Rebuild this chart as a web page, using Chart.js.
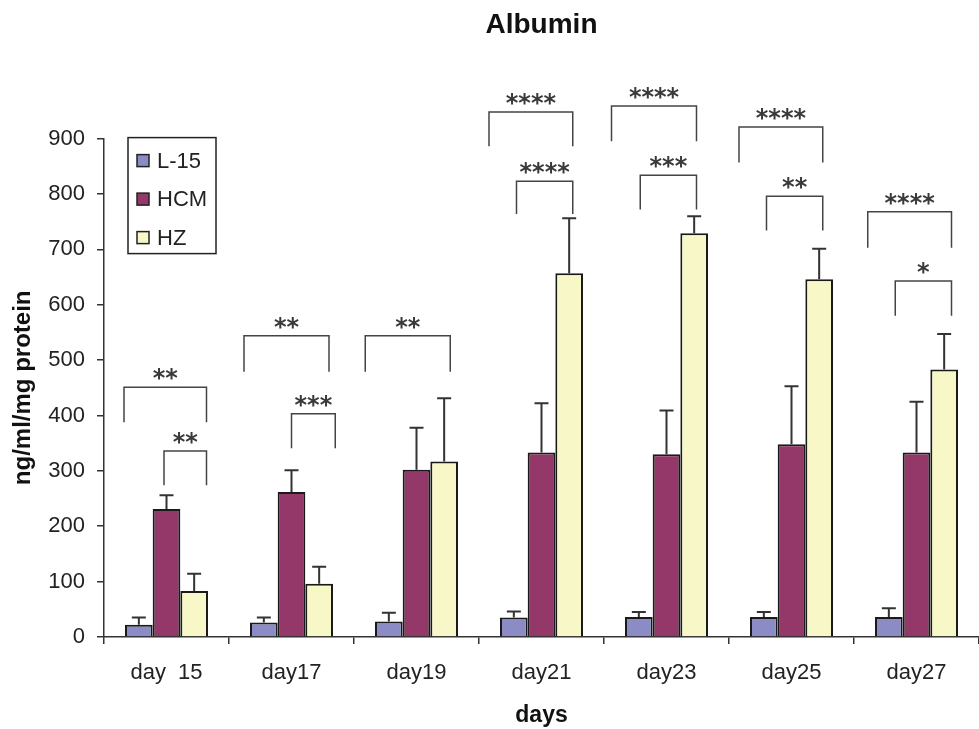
<!DOCTYPE html>
<html>
<head>
<meta charset="utf-8">
<title>Albumin</title>
<script src="https://cdn.jsdelivr.net/npm/chart.js@4.4.1/dist/chart.umd.min.js"></script>
<style>
    html, body { margin: 0; padding: 0; background: #fff; }
    #albuminChart { display: block; }
</style>
</head>
<body>
<canvas id="albuminChart" width="979" height="729"></canvas>
<script>
// Albumin secretion per day, mean and SD (upper error bar only)
const days = ['day  15', 'day17', 'day19', 'day21', 'day23', 'day25', 'day27'];
const l15 = [22, 26, 28, 35, 36, 36, 36];
const l15Sd = [13, 9, 16, 11, 9, 9, 16];
const hcm = [231, 262, 302, 333, 330, 348, 333];
const hcmSd = [25, 39, 76, 89, 79, 105, 92];
const hz = [83, 96, 317, 657, 729, 646, 483];
const hzSd = [31, 31, 114, 99, 31, 55, 64];
const yTicks = [0, 100, 200, 300, 400, 500, 600, 700, 800, 900];

// Significance brackets: top line and foot of the legs, in ng/ml/mg
const outerTop = [451, 544, 544, 948, 959, 921, 768];
const outerFoot = [388, 479, 479, 886, 895, 857, 703];
const outerStars = ['**', '**', '**', '****', '****', '****', '****'];
const innerTop = [336, 403, null, 823, 834, 796, 643];
const innerFoot = [274, 341, null, 764, 772, 734, 580];
const innerStars = ['**', '***', null, '****', '***', '**', '*'];

// where the bracket legs sit, as a fraction of one category from its centre
const outerSpan = [[-0.34, 0.32], [-0.38, 0.30], [-0.41, 0.27], [-0.42, 0.25], [-0.44, 0.24], [-0.42, 0.25], [-0.39, 0.28]];
const innerSpan = [[-0.02, 0.32], [0.0, 0.35], null, [-0.20, 0.25], [-0.21, 0.24], [-0.20, 0.25], [-0.17, 0.28]];

const sdList = [l15Sd, hcmSd, hzSd];
const font = 'Liberation Sans, Arial, sans-serif';

const errorBars = {
    id: 'errorBars',
    afterDatasetsDraw(chart) {
        const { ctx, scales: { y } } = chart;
        ctx.save();
        ctx.strokeStyle = '#333';
        ctx.lineWidth = 2;
        chart.data.datasets.forEach((ds, d) => {
            chart.getDatasetMeta(d).data.forEach((bar, i) => {
                const top = y.getPixelForValue(ds.data[i] + sdList[d][i]);
                ctx.beginPath();
                ctx.moveTo(bar.x, bar.y);
                ctx.lineTo(bar.x, top);
                ctx.moveTo(bar.x - 7, top);
                ctx.lineTo(bar.x + 7, top);
                ctx.stroke();
            });
        });
        ctx.restore();
    }
};

function drawBracket(ctx, x, y, i, span, top, foot, stars) {
    const cx = x.getPixelForValue(i);
    const w = x.width / days.length;
    const xl = cx + span[0] * w;
    const xr = cx + span[1] * w;
    const yt = y.getPixelForValue(top);
    const yf = y.getPixelForValue(foot);
    ctx.beginPath();
    ctx.moveTo(xl, yf);
    ctx.lineTo(xl, yt);
    ctx.lineTo(xr, yt);
    ctx.lineTo(xr, yf);
    ctx.stroke();
    ctx.fillText(stars, (xl + xr) / 2, yt - 1);
}

const brackets = {
    id: 'brackets',
    afterDraw(chart) {
        const { ctx, scales: { x, y } } = chart;
        ctx.save();
        ctx.strokeStyle = '#444';
        ctx.lineWidth = 1.5;
        ctx.fillStyle = '#3a3a3a';
        ctx.font = 'bold 24px DejaVu Sans';
        ctx.textAlign = 'center';
        ctx.textBaseline = 'alphabetic';
        days.forEach((d, i) => {
            drawBracket(ctx, x, y, i, outerSpan[i], outerTop[i], outerFoot[i], outerStars[i]);
            if (innerSpan[i]) {
                drawBracket(ctx, x, y, i, innerSpan[i], innerTop[i], innerFoot[i], innerStars[i]);
            }
        });
        ctx.restore();
    }
};

// boxed legend in the top left corner of the plot
const boxLegend = {
    id: 'boxLegend',
    afterDraw(chart) {
        const { ctx, chartArea } = chart;
        const left = chartArea.left + 24;
        const top = chartArea.top - 1;
        ctx.save();
        ctx.strokeStyle = '#222';
        ctx.lineWidth = 1.5;
        ctx.strokeRect(left, top, 88, 116);
        ctx.font = '22px ' + font;
        ctx.textBaseline = 'middle';
        chart.data.datasets.forEach((ds, i) => {
            const cy = top + 23 + i * 38.5;
            ctx.fillStyle = ds.backgroundColor;
            ctx.fillRect(left + 9, cy - 6, 12, 12);
            ctx.strokeRect(left + 9, cy - 6, 12, 12);
            ctx.fillStyle = '#222';
            ctx.fillText(ds.label, left + 29, cy + 1);
        });
        ctx.restore();
    }
};

const barStyle = {
    borderColor: '#1a1a1a',
    borderWidth: 2,
    categoryPercentage: 0.664,
    barPercentage: 1.0
};

new Chart(document.getElementById('albuminChart'), {
    type: 'bar',
    data: {
        labels: days,
        datasets: [
            { label: 'L-15', data: l15, backgroundColor: '#8b8bc6', ...barStyle },
            { label: 'HCM', data: hcm, backgroundColor: '#94386a', ...barStyle },
            { label: 'HZ', data: hz, backgroundColor: '#f8f7c7', ...barStyle }
        ]
    },
    options: {
        responsive: false,
        animation: false,
        devicePixelRatio: 1,
        layout: { padding: 0 },
        scales: {
            x: {
                afterFit: s => { s.height = 92; },
                grid: { offset: true, drawOnChartArea: false, tickLength: 7, color: '#333', lineWidth: 1.5 },
                border: { color: '#333', width: 1.5 },
                ticks: { color: '#222', padding: 16, font: { family: font, size: 22 }, maxRotation: 0 },
                title: {
                    display: true,
                    text: 'days',
                    color: '#111',
                    padding: { top: 0, bottom: 0 },
                    font: { family: font, size: 23, weight: 'bold' }
                }
            },
            y: {
                min: 0,
                max: 900,
                afterFit: s => { s.width = 104; },
                afterBuildTicks: s => { s.ticks = yTicks.map(v => ({ value: v })); },
                grid: { drawOnChartArea: false, tickLength: 7, color: '#333', lineWidth: 1.5 },
                border: { color: '#333', width: 1.5 },
                ticks: { color: '#222', padding: 12, font: { family: font, size: 22 } },
                title: {
                    display: true,
                    text: 'ng/ml/mg protein',
                    color: '#111',
                    padding: { top: 9, bottom: 0 },
                    font: { family: font, size: 24, weight: 'bold' }
                }
            }
        },
        plugins: {
            legend: { display: false },
            tooltip: { enabled: false },
            title: {
                display: true,
                text: 'Albumin',
                fullSize: false,
                color: '#111',
                padding: { top: 8, bottom: 97 },
                font: { family: font, size: 28, weight: 'bold' }
            }
        }
    },
    plugins: [errorBars, brackets, boxLegend]
});
</script>
</body>
</html>
